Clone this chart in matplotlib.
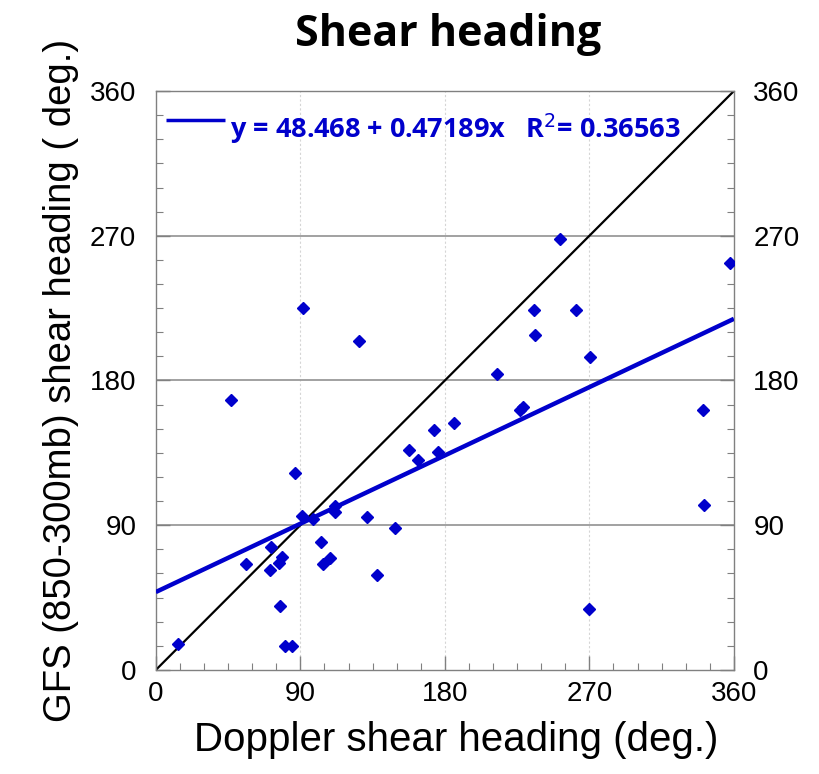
import matplotlib
matplotlib.use("Agg")
import matplotlib.pyplot as plt
from matplotlib.ticker import MultipleLocator
import numpy as np

# Data
doppler = [91.5, 126.7, 46.7, 86.7, 173.2, 157.4, 163.5, 175.9, 91.0, 97.9,
           111.8, 111.4, 131.3, 148.7, 103.1, 108.5, 104.1, 138.0, 71.6, 78.8,
           76.5, 56.4, 71.4, 77.6, 13.7, 80.7, 85.1,
           251.6, 235.8, 261.4, 236.3, 270.7, 212.6, 357.6,
           185.4, 226.5, 228.7, 341.0, 341.6, 269.6]
gfs = [224.8, 204.5, 167.6, 122.2, 149.4, 136.9, 130.5, 135.7, 95.9, 93.7,
       101.9, 98.4, 95.1, 88.1, 79.6, 69.4, 65.9, 59.2, 76.6, 70.4,
       66.3, 65.9, 62.2, 39.8, 16.0, 14.9, 14.9,
       268.1, 223.7, 223.7, 208.4, 194.7, 183.8, 253.1,
       153.3, 161.6, 163.6, 161.4, 102.5, 38.1]
intercept = 48.468
slope = 0.47189
r2 = 0.36563
ticks = [0, 90, 180, 270, 360]

fig = plt.figure(figsize=(8.2, 7.74), dpi=100)
ax = fig.add_axes([0.190, 0.1344, 0.705, 0.748])

blue = "#0000CC"
ax.set_xlim(0, 360)
ax.set_ylim(0, 360)

# grid
for t in [90, 180, 270]:
    ax.axhline(t, color="#9a9a9a", lw=1.3, zorder=0)
    ax.axvline(t, color="#d5d5d5", lw=0.8, ls=(0, (2, 2)), zorder=0)

# 1:1 line
ax.plot([0, 360], [0, 360], color="black", lw=1.6, zorder=2)
# regression line
xs = np.array([0, 360])
ax.plot(xs, intercept + slope * xs, color=blue, lw=3.2, zorder=3, solid_capstyle="butt")
# points
ax.plot(doppler, gfs, ls="none", marker="D", ms=6.5, color=blue, mec=blue, zorder=4)

# ticks
ax.set_xticks(ticks)
ax.set_yticks(ticks)
ax.xaxis.set_minor_locator(MultipleLocator(15))
ax.yaxis.set_minor_locator(MultipleLocator(15))
ax.tick_params(which="both", direction="in", colors="#808080",
               labelcolor="black", left=True, right=True, bottom=True, top=False,
               labelleft=True, labelright=True)
ax.tick_params(which="major", length=10, width=1.0, labelsize=20)
ax.tick_params(axis="y", which="major", pad=14)
ax.tick_params(axis="x", which="major", pad=8)
ax.tick_params(which="minor", length=5, width=0.8)
for lab in ax.xaxis.get_majorticklabels() + ax.yaxis.get_majorticklabels():
    lab.set_family("Liberation Sans")
for t in ax.yaxis.get_major_ticks():
    t.label2.set_family("Liberation Sans")

for s in ax.spines.values():
    s.set_color("#808080")
    s.set_linewidth(1.0)

ax.set_xlabel("Doppler shear heading (deg.)", fontsize=29, family="Liberation Sans", labelpad=10)
ax.xaxis.label.set_x(0.52)
ax.set_ylabel("GFS (850-300mb) shear heading ( deg.)", fontsize=27.5, family="Liberation Sans", labelpad=8)
fig.text(0.546, 0.955, "Shear heading", ha="center", va="center",
         fontsize=31, fontweight="bold", family="Open Sans")

# legend/equation
ax.plot([0.017, 0.120], [0.95, 0.95], transform=ax.transAxes, color=blue, lw=2.5,
        solid_capstyle="butt")
ax.text(0.128, 0.918, "y = 48.468 + 0.47189x   R$^2$= 0.36563", transform=ax.transAxes,
        color=blue, fontsize=19.5, fontweight="bold", family="Open Sans", va="baseline", ha="left")

fig.savefig("out.png", dpi=100)
